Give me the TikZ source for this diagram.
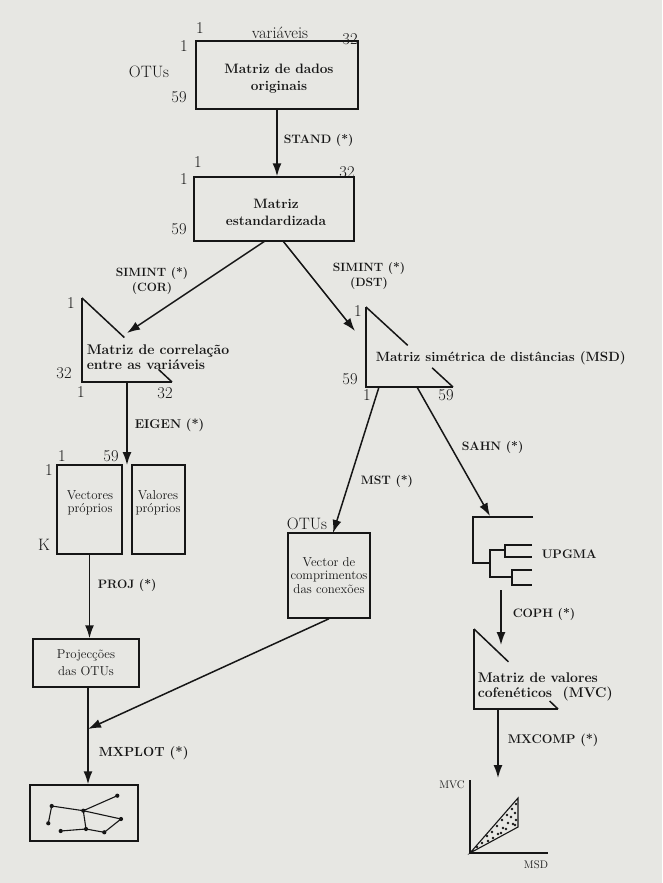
\documentclass[tikz,border=0pt]{standalone}
\usetikzlibrary{arrows.meta,calc}
\definecolor{paper}{RGB}{231,231,227}
\definecolor{ink}{RGB}{22,22,22}
\begin{document}
\begin{tikzpicture}[x=1pt,y=-1pt,line width=1.5pt,draw=ink,text=ink,
  box/.style={draw,inner sep=0pt,align=center},
  bigt/.style={font=\fontsize{13.6}{17}\bfseries\selectfont,align=center,inner sep=0pt},
  midt/.style={font=\fontsize{12}{15}\bfseries\selectfont},
  smt/.style={font=\fontsize{12.9}{13.5}\selectfont},
  num/.style={font=\fontsize{16.5}{18}\selectfont,inner sep=0pt},
  lab/.style={font=\fontsize{12.2}{14}\bfseries\selectfont,inner sep=0pt,anchor=west},
  arr/.style={-{Latex[length=13pt,width=9pt]}},
  dot/.style={fill=ink,draw=none}]
\fill[paper] (0,0) rectangle (662,883);
\useasboundingbox (0,0) rectangle (662,883);

% --- box 1
\node[box,minimum width=162,minimum height=68] (orig) at (277,75) {};
\node[bigt] (origt) at (279,79) {Matriz de dados\\originais};
\node[num] (o1) at (200,28) {1};
\node[num] (ov) at (280,33) {variáveis};
\node[num] (o32) at (350,39) {32};
\node[num] (o1b) at (184,46) {1};
\node[num] (ootu) at (149,72) {OTUs};
\node[num] (o59) at (179,97) {59};

% --- box 2
\node[box,minimum width=160,minimum height=64] (std) at (274,209) {};
\node[bigt] (stdt) at (276,212) {Matriz\\estandardizada};
\node[num] (s1) at (198,162) {1};
\node[num] (s32) at (347,172) {32};
\node[num] (s1b) at (184,179) {1};
\node[num] (s59) at (179,229) {59};
\draw[arr] (orig.south) -- (orig.south |- std.north);
\node[lab] (stand) at (283,140) {STAND (*)};

% --- correlation triangle
\coordinate (ct) at (82,298);
\coordinate (cbl) at (82,382);
\coordinate (cbr) at (172,382);
\draw (ct) -- (cbl) -- (cbr);
\draw (ct) -- ($(ct)!0.47!(cbr)$);
\draw ($(ct)!0.85!(cbr)$) -- (cbr);
\node[font=\fontsize{14}{15}\bfseries\selectfont,anchor=west,align=left,inner sep=0pt] (cort) at (86,357) {Matriz de correlação\\entre as variáveis};
\node[num] (c1) at (71,303) {1};
\node[num] (c32) at (64,373) {32};
\node[num] (c1b) at (81,392) {1};
\node[num] (c32b) at (165,393) {32};
\coordinate (corA) at (127,333);
\draw[arr] (265,241) -- (corA);
\node[midt,align=center,inner sep=0pt] (simc) at (152,281) {SIMINT (*)\\(COR)};

% --- distance triangle
\coordinate (dt) at (366,307);
\coordinate (dbl) at (366,387);
\coordinate (dbr) at (453,387);
\draw (dt) -- (dbl) -- (dbr);
\draw (dt) -- ($(dt)!0.48!(dbr)$);
\draw ($(dt)!0.76!(dbr)$) -- (dbr);
\node[font=\fontsize{13.4}{15}\bfseries\selectfont,anchor=west,inner sep=0pt] (msdt) at (375,358) {Matriz simétrica de distâncias (MSD)};
\node[num] (d1) at (358,311) {1};
\node[num] (d59) at (350,379) {59};
\node[num] (d1b) at (367,395) {1};
\node[num] (d59b) at (446,395) {59};
\coordinate (msdA) at (355,331);
\draw[arr] (283,241) -- (msdA);
\node[midt,align=center,inner sep=0pt] (simd) at (369,276) {SIMINT (*)\\(DST)};

% --- eigen boxes
\node[box,minimum width=65,minimum height=89] (vec) at (89.5,509.5) {};
\node[smt,align=center,inner sep=0pt] (vect) at (90,503) {Vectores\\próprios};
\node[box,minimum width=53,minimum height=89] (val) at (158.5,509.5) {};
\node[smt,align=center,inner sep=0pt] (valt) at (158,503) {Valores\\próprios};
\node[num] (v1) at (62,456) {1};
\node[num] (v59) at (111,456) {59};
\node[num] (v1b) at (49,470) {1};
\node[num] (vk) at (44,545) {K};
\draw[arr] (127,382) -- (127,465);
\node[lab,font=\fontsize{12.7}{14}\bfseries\selectfont] (eigen) at (134,425) {EIGEN (*)};

% --- projections
\node[box,font=\fontsize{12.9}{17}\selectfont,minimum width=106,minimum height=48] (proj) at (86,663) {Projecções\\das OTUs};
\draw[arr] (vec.south) -- (vec.south |- proj.north);
\node[lab] (projl) at (97,585) {PROJ (*)};

% --- MST vector
\node[box,smt,minimum width=82,minimum height=85] (mst) at (329,575.5) {Vector de\\comprimentos\\das conexões};
\node[num] (motu) at (307,524) {OTUs};
\draw[arr] (379,387) -- (333,533);
\node[lab] (mstl) at (360,481) {MST (*)};

% --- plot box
\coordinate (j) at (88,729);
\node[box,minimum width=108,minimum height=56] (plot) at (84,813) {};
\draw (proj.south -| j) -- (j);
\draw[arr] (j) -- (j |- plot.north);
\draw[arr] (mst.south) -- (j);
\node[lab,font=\fontsize{13.2}{15}\bfseries\selectfont] (mxp) at (98,753) {MXPLOT (*)};
\coordinate (pA) at (51.7,806);
\coordinate (pB) at (83.3,810.7);
\coordinate (pC) at (117.3,795.7);
\coordinate (pD) at (121,819);
\coordinate (pE) at (48.3,823.3);
\coordinate (pF) at (60.7,831);
\coordinate (pG) at (86,829);
\coordinate (pH) at (104.3,832.3);
\begin{scope}[line width=1.1pt]
\draw (pE) -- (pA) -- (pB) -- (pC);
\draw (pB) -- (pD) -- (pH) -- (pG) -- (pB);
\draw (pF) -- (pG);
\end{scope}
\foreach \p in {pA,pB,pC,pD,pE,pF,pG,pH} \fill[dot] (\p) circle (2.1);

% --- dendrogram
\begin{scope}[line width=1.2pt]
\draw (533,517) -- (473,517) -- (473,563) -- (490,563);
\draw (505,550) -- (490,550) -- (490,577) -- (512,577);
\draw (532,545) -- (505,545) -- (505,557) -- (532,557);
\draw (532,570) -- (512,570) -- (512,585) -- (532,585);
\end{scope}
\coordinate (dendA) at (490,516);
\draw[arr] (417,387) -- (dendA);
\node[lab] (sahn) at (461,447) {SAHN (*)};
\node[font=\fontsize{12.4}{15}\bfseries\selectfont,anchor=west,inner sep=0pt] (upgma) at (541,554) {UPGMA};

% --- MVC triangle
\coordinate (mt) at (474,629);
\coordinate (mbl) at (474,709);
\coordinate (mbr) at (558,709);
\draw (mt) -- (mbl) -- (mbr);
\draw (mt) -- ($(mt)!0.41!(mbr)$);
\draw ($(mt)!0.9!(mbr)$) -- (mbr);
\node[font=\fontsize{14}{14.5}\bfseries\selectfont,anchor=west,align=left,inner sep=0pt] (mvct) at (477,687) {Matriz de valores\\cofenéticos\ \ (MVC)};
\draw[arr] (501,590) -- (501,645);
\node[lab] (coph) at (512,614) {COPH (*)};

% --- scatter
\coordinate (so) at (470,853);
\coordinate (sy) at (470,780);
\coordinate (sx) at (548,853);
\draw[arr] (498,709) -- (498,778);
\node[lab,font=\fontsize{12.6}{14}\bfseries\selectfont] (mxc) at (507,740) {MXCOMP (*)};
\draw[line width=1.3pt] (sy) -- (so) -- (sx);
\draw[line width=1.1pt] (so) -- (518,798) -- (518,827) -- cycle;
\node[font=\fontsize{11}{12}\selectfont,inner sep=0pt] (smvc) at (452,785) {MVC};
\node[font=\fontsize{11}{12}\selectfont,inner sep=0pt] (smsd) at (536,865) {MSD};
\foreach \x/\y in {477/847,482/843,487/836,488/841,492/832,493/838,497/826,498/834,
  502/820,503/828,501/833,507/815,508/823,506/829,512/809,511/817,513/824,
  516/804,515/813,516/820,515/825}
  \fill[dot] (\x,\y) circle (1.4);
\end{tikzpicture}
\end{document}
